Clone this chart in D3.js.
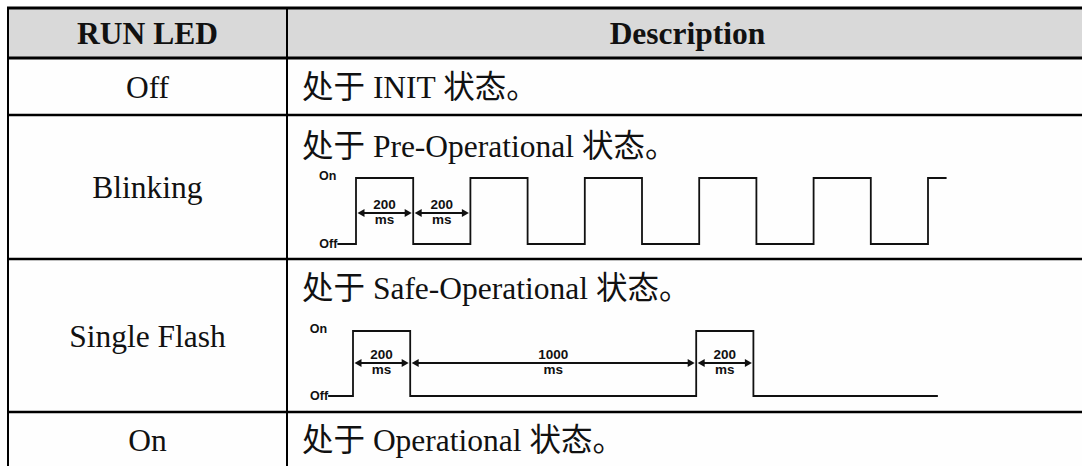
<!DOCTYPE html>
<html>
<head>
<meta charset="utf-8">
<script src="https://cdn.jsdelivr.net/npm/d3@7"></script>
<style>
  html, body { margin: 0; padding: 0; background: #fefefe; }
  svg { display: block; }
</style>
</head>
<body>
<svg id="chart" width="1082" height="466"></svg>
<script>
// ---------- data ----------
const headers = ["RUN LED", "Description"];
const rowLabels = ["Off", "Blinking", "Single Flash", "On"];
const descriptions = ["处于 INIT 状态。", "处于 Pre-Operational 状态。", "处于 Safe-Operational 状态。", "处于 Operational 状态。"];
const levelLabels = ["Off", "On"];
const unitLabel = "ms";

// Blinking waveform: transition times (ms) and level after each time
const blinkTimes  = [-65, 0, 200, 400, 600, 800, 1000, 1200, 1400, 1600, 1800, 2000, 2065];
const blinkLevels = [0,   1, 0,   1,   0,   1,   0,    1,    0,    1,    0,    1,    1];
const blinkSpanStart = [0, 200];
const blinkSpanEnd   = [200, 400];
const blinkSpanLabel = ["200", "200"];

// Single flash waveform
const flashTimes  = [-87, 0, 200, 1200, 1400, 2045];
const flashLevels = [0,   1, 0,   1,    0,    0];
const flashSpanStart = [0, 200, 1200];
const flashSpanEnd   = [200, 1200, 1400];
const flashSpanLabel = ["200", "1000", "200"];

// ---------- layout ----------
const W = 1082, H = 466;
const tableLeft = 8, tableRight = 1094, colDiv = 287;
const rowLines = [8, 58, 115, 259, 412];
const svg = d3.select("#chart");
const serif = "'Liberation Serif', 'Times New Roman', 'Noto Sans CJK SC', serif";
const sans = "'Liberation Sans', Arial, sans-serif";
const FS = 31.5;

// header background
svg.append("rect").attr("x", tableLeft).attr("y", rowLines[0])
  .attr("width", tableRight - tableLeft).attr("height", rowLines[1] - rowLines[0])
  .attr("fill", "#d9d9d9");

// header text
const col1C = (tableLeft + colDiv) / 2, col2C = (colDiv + tableRight) / 2;
svg.selectAll("text.hdr").data(headers).join("text")
  .attr("class", "hdr")
  .attr("x", (d, i) => i === 0 ? col1C : col2C - 3)
  .attr("y", (rowLines[0] + rowLines[1]) / 2 + 11)
  .attr("text-anchor", "middle")
  .attr("font-family", serif).attr("font-weight", "bold").attr("font-size", FS)
  .attr("fill", "#111")
  .text(d => d);

// row labels (left column)
const rowCenters = [(rowLines[1] + rowLines[2]) / 2, (rowLines[2] + rowLines[3]) / 2,
                    (rowLines[3] + rowLines[4]) / 2, 440];
svg.selectAll("text.lbl").data(rowLabels).join("text")
  .attr("class", "lbl")
  .attr("x", col1C)
  .attr("y", (d, i) => rowCenters[i] + 11)
  .attr("text-anchor", "middle")
  .attr("font-family", serif).attr("font-size", FS).attr("fill", "#111")
  .text(d => d);

// descriptions
const descY = [rowCenters[0] + 11, 157, 299, 451];
svg.selectAll("text.desc").data(descriptions).join("text")
  .attr("class", "desc")
  .attr("x", 302)
  .attr("y", (d, i) => descY[i])
  .attr("font-family", serif).attr("font-size", FS).attr("fill", "#111")
  .text(d => d);

// ---------- waveforms ----------
function drawWave(times, levels, spanStart, spanEnd, spanLabel, cfg) {
  const x = d3.scaleLinear().domain([0, 2000]).range([cfg.x0, cfg.x0 + 572]);
  const y = d3.scaleLinear().domain([0, 1]).range([cfg.lowY, cfg.highY]);
  const g = svg.append("g");
  const pts = times.map((t, i) => [t, levels[i]]);
  const line = d3.line().x(d => x(d[0])).y(d => y(d[1])).curve(d3.curveStepAfter);
  g.append("path").attr("d", line(pts))
    .attr("fill", "none").attr("stroke", "#111").attr("stroke-width", 1.8);

  // level labels
  const startX = x(times[0]);
  g.selectAll("text.lv").data(levelLabels).join("text")
    .attr("class", "lv")
    .attr("x", (d, i) => startX - (i === 1 ? 1 : 0))
    .attr("y", (d, i) => y(i) + (i === 1 ? 2 : 4))
    .attr("text-anchor", "end")
    .attr("font-family", sans).attr("font-weight", "bold").attr("font-size", 12.5)
    .attr("fill", "#111")
    .text(d => d);

  // dimension arrows
  const ay = cfg.arrowY;
  spanStart.forEach((s, i) => {
    const a = x(s) + 1.5, b = x(spanEnd[i]) - 1.5;
    g.append("line").attr("x1", a + 4).attr("x2", b - 4).attr("y1", ay).attr("y2", ay)
      .attr("stroke", "#111").attr("stroke-width", 1.8);
    g.append("path").attr("d", `M${a},${ay} L${a + 7},${ay - 4} L${a + 7},${ay + 4} Z`).attr("fill", "#111");
    g.append("path").attr("d", `M${b},${ay} L${b - 7},${ay - 4} L${b - 7},${ay + 4} Z`).attr("fill", "#111");
    const cx = (x(s) + x(spanEnd[i])) / 2;
    g.append("text").attr("x", cx).attr("y", ay - 4)
      .attr("text-anchor", "middle").attr("font-family", sans).attr("font-weight", "bold")
      .attr("font-size", 13.5).attr("fill", "#111").text(spanLabel[i]);
    g.append("text").attr("x", cx).attr("y", ay + 11)
      .attr("text-anchor", "middle").attr("font-family", sans).attr("font-weight", "bold")
      .attr("font-size", 13.5).attr("fill", "#111").text(unitLabel);
  });
}

drawWave(blinkTimes, blinkLevels, blinkSpanStart, blinkSpanEnd, blinkSpanLabel,
  { x0: 356, lowY: 244, highY: 178, arrowY: 213 });
drawWave(flashTimes, flashLevels, flashSpanStart, flashSpanEnd, flashSpanLabel,
  { x0: 353, lowY: 396, highY: 331, arrowY: 363 });

// ---------- grid lines ----------
svg.selectAll("line.h").data(rowLines).join("line")
  .attr("class", "h")
  .attr("x1", tableLeft - 1).attr("x2", tableRight)
  .attr("y1", d => d).attr("y2", d => d)
  .attr("stroke", "#000").attr("stroke-width", (d, i) => i < 2 ? 3 : 2.5);
svg.selectAll("line.v").data([tableLeft, colDiv]).join("line")
  .attr("class", "v")
  .attr("x1", d => d).attr("x2", d => d)
  .attr("y1", rowLines[0]).attr("y2", H)
  .attr("stroke", "#000").attr("stroke-width", 2);
</script>
</body>
</html>
